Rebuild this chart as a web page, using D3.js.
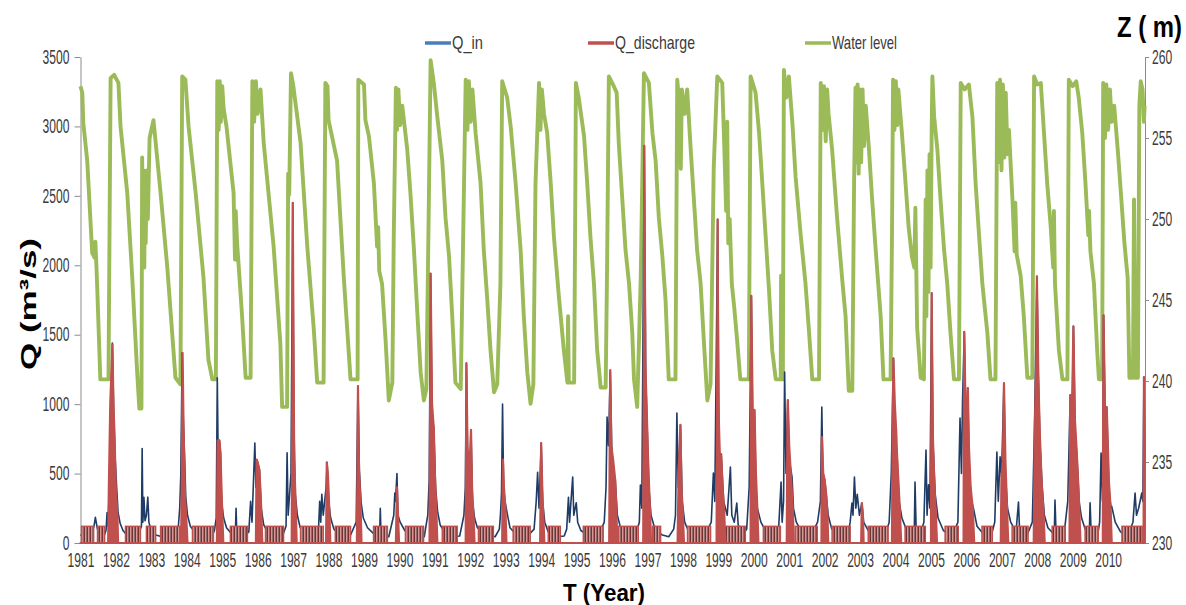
<!DOCTYPE html>
<html>
<head>
<meta charset="utf-8">
<title>Q_in, Q_discharge and water level 1981-2010</title>
<script src="https://d3js.org/d3.v7.min.js"></script>
<style>
  body { margin: 0; background: #fff; }
  text { font-family: "Liberation Sans", Arial, sans-serif; }
</style>
</head>
<body>
<div id="chart"></div>
<script>

// ---- data (time as decimal year) ----
const yearTicks = [1981, 1982, 1983, 1984, 1985, 1986, 1987, 1988, 1989, 1990,
  1991, 1992, 1993, 1994, 1995, 1996, 1997, 1998, 1999, 2000,
  2001, 2002, 2003, 2004, 2005, 2006, 2007, 2008, 2009, 2010];
const qTicks = [0, 500, 1000, 1500, 2000, 2500, 3000, 3500];
const zTicks = [230, 235, 240, 245, 250, 255, 260];

// water level Z (m), [year, Z]
const waterLevel = [
  [1981.00,258.2],[1981.05,257.8],[1981.08,255.9],[1981.19,253.6],[1981.33,247.9],[1981.40,247.6],[1981.42,248.6],[1981.46,246.5],
  [1981.56,240.1],[1981.79,240.1],[1981.80,243.3],[1981.85,258.7],[1981.95,258.9],[1982.07,258.4],[1982.13,255.7],[1982.32,251.6],
  [1982.46,246.4],[1982.60,240.5],[1982.66,238.3],[1982.72,238.3],[1982.74,253.8],[1982.76,249.0],[1982.78,253.0],[1982.80,247.0],
  [1982.82,252.5],[1982.84,248.5],[1982.87,253.0],[1982.90,250.0],[1982.95,255.0],[1983.06,256.1],[1983.26,251.6],[1983.45,247.0],
  [1983.68,240.2],[1983.82,239.8],[1983.87,258.8],[1983.96,258.6],[1984.05,255.7],[1984.25,251.6],[1984.47,246.4],[1984.61,241.3],
  [1984.72,240.1],[1984.82,240.1],[1984.86,258.5],[1984.90,255.5],[1984.93,258.5],[1984.96,256.0],[1985.00,258.2],[1985.04,256.8],
  [1985.12,255.7],[1985.32,251.6],[1985.36,247.5],[1985.38,250.5],[1985.42,248.5],[1985.56,244.0],[1985.66,240.2],[1985.80,240.2],
  [1985.85,258.5],[1985.90,256.0],[1985.95,258.5],[1986.00,256.5],[1986.08,258.0],[1986.17,254.7],[1986.45,248.3],[1986.64,242.3],
  [1986.69,238.4],[1986.83,238.4],[1986.86,252.8],[1986.89,251.5],[1986.94,259.0],[1987.00,258.3],[1987.21,254.7],[1987.40,248.3],
  [1987.58,243.3],[1987.68,239.9],[1987.86,239.9],[1987.91,258.4],[1987.97,258.2],[1988.00,256.1],[1988.24,253.6],[1988.43,246.4],
  [1988.62,240.1],[1988.82,240.1],[1988.84,258.6],[1989.00,258.3],[1989.04,256.1],[1989.14,255.1],[1989.28,252.2],[1989.37,248.3],
  [1989.40,249.5],[1989.43,246.8],[1989.51,246.0],[1989.61,242.5],[1989.70,238.8],[1989.80,239.9],[1989.84,248.9],[1989.90,258.1],
  [1989.93,255.5],[1989.97,258.0],[1990.02,255.8],[1990.08,257.0],[1990.22,254.3],[1990.31,251.6],[1990.41,248.1],[1990.50,244.4],
  [1990.60,240.5],[1990.69,238.8],[1990.76,239.5],[1990.83,251.0],[1990.88,259.8],[1990.97,258.4],[1991.07,256.3],[1991.21,253.6],
  [1991.30,250.1],[1991.40,247.7],[1991.49,244.0],[1991.58,239.9],[1991.73,239.5],[1991.87,258.6],[1991.92,255.5],[1991.96,258.5],
  [1992.01,256.0],[1992.06,258.0],[1992.15,255.3],[1992.29,252.2],[1992.38,248.1],[1992.48,245.0],[1992.57,241.9],[1992.67,239.3],
  [1992.76,239.8],[1992.85,246.0],[1992.90,258.5],[1993.04,257.5],[1993.14,255.7],[1993.28,252.2],[1993.42,248.1],[1993.51,244.0],
  [1993.61,240.5],[1993.70,238.6],[1993.78,239.8],[1993.84,252.2],[1993.94,258.4],[1993.98,255.5],[1994.02,258.0],[1994.08,256.5],
  [1994.17,255.3],[1994.27,252.2],[1994.36,248.9],[1994.50,245.2],[1994.64,241.9],[1994.74,239.9],[1994.76,244.0],[1994.78,239.9],
  [1994.93,239.9],[1994.96,250.0],[1994.98,258.4],[1995.06,257.5],[1995.21,255.1],[1995.30,252.2],[1995.39,248.9],[1995.49,246.0],
  [1995.58,241.9],[1995.68,239.6],[1995.82,239.6],[1995.86,247.0],[1995.91,258.8],[1996.05,258.2],[1996.13,257.8],[1996.19,254.7],
  [1996.29,251.2],[1996.38,248.1],[1996.48,246.0],[1996.57,243.0],[1996.62,240.1],[1996.71,238.4],[1996.81,246.4],[1996.90,259.0],
  [1997.04,258.4],[1997.14,255.3],[1997.23,253.6],[1997.32,250.1],[1997.42,247.7],[1997.51,245.0],[1997.60,240.1],[1997.79,240.1],
  [1997.84,258.6],[1997.90,257.0],[1997.94,253.1],[1997.97,258.0],[1998.05,256.5],[1998.12,258.0],[1998.16,256.5],[1998.22,254.3],
  [1998.31,251.2],[1998.40,248.1],[1998.50,246.0],[1998.59,242.5],[1998.69,238.8],[1998.78,239.8],[1998.87,253.2],[1998.97,258.8],
  [1999.11,258.4],[1999.16,255.0],[1999.22,250.5],[1999.25,256.0],[1999.28,248.5],[1999.32,250.0],[1999.38,246.0],[1999.45,244.5],
  [1999.53,242.5],[1999.62,240.1],[1999.86,240.1],[1999.91,258.8],[2000.05,257.8],[2000.15,255.3],[2000.24,252.2],[2000.33,249.1],
  [2000.43,245.6],[2000.52,241.9],[2000.62,240.1],[2000.76,240.1],[2000.77,246.5],[2000.79,240.1],[2000.82,240.1],[2000.85,259.2],
  [2000.92,257.5],[2000.99,258.8],[2001.09,255.9],[2001.18,252.6],[2001.32,249.1],[2001.46,246.0],[2001.56,243.0],[2001.65,240.1],
  [2001.84,240.1],[2001.89,258.4],[2001.94,255.5],[2001.98,258.2],[2002.03,254.8],[2002.07,258.0],[2002.11,256.5],[2002.21,254.3],
  [2002.35,250.1],[2002.49,246.4],[2002.59,244.0],[2002.68,239.4],[2002.78,239.4],[2002.83,252.2],[2002.87,258.1],[2002.90,253.5],
  [2002.93,258.3],[2002.96,252.8],[2002.99,258.0],[2003.03,253.5],[2003.07,258.0],[2003.11,254.5],[2003.16,257.0],[2003.25,254.3],
  [2003.34,251.2],[2003.44,248.1],[2003.58,244.0],[2003.66,240.1],[2003.86,240.1],[2003.90,249.0],[2003.93,258.6],[2003.97,255.5],
  [2004.01,258.5],[2004.05,255.8],[2004.08,258.0],[2004.18,255.3],[2004.27,252.6],[2004.37,249.5],[2004.46,247.7],[2004.53,247.0],
  [2004.56,250.7],[2004.61,243.3],[2004.71,240.2],[2004.80,240.1],[2004.85,251.2],[2004.87,244.0],[2004.90,253.0],[2004.93,245.5],
  [2004.96,254.0],[2004.99,247.0],[2005.02,255.5],[2005.04,258.8],[2005.09,256.3],[2005.18,254.3],[2005.27,251.2],[2005.37,248.1],
  [2005.46,246.0],[2005.55,243.0],[2005.65,240.1],[2005.79,240.1],[2005.84,258.4],[2005.95,258.0],[2006.07,258.3],[2006.17,256.3],
  [2006.26,252.2],[2006.36,248.9],[2006.45,246.0],[2006.59,243.0],[2006.68,240.1],[2006.82,240.1],[2006.87,258.4],[2006.91,253.5],
  [2006.95,258.6],[2006.99,253.0],[2007.03,258.3],[2007.07,253.8],[2007.11,257.8],[2007.16,254.0],[2007.20,255.5],[2007.30,251.2],
  [2007.36,248.0],[2007.38,251.0],[2007.42,247.8],[2007.53,246.5],[2007.62,244.0],[2007.72,240.2],[2007.86,240.2],[2007.91,258.8],
  [2008.00,258.3],[2008.10,258.4],[2008.19,255.3],[2008.28,252.2],[2008.38,249.5],[2008.45,247.0],[2008.47,250.5],[2008.50,246.0],
  [2008.61,241.9],[2008.71,240.1],[2008.85,240.1],[2008.89,258.6],[2009.00,258.2],[2009.10,258.5],[2009.17,257.5],[2009.27,255.3],
  [2009.36,252.2],[2009.44,249.0],[2009.46,250.5],[2009.50,248.0],[2009.60,246.0],[2009.69,241.9],[2009.74,240.1],[2009.83,240.1],
  [2009.86,258.4],[2009.91,255.0],[2009.95,258.3],[2010.00,255.5],[2010.05,258.0],[2010.10,256.0],[2010.17,257.0],[2010.27,254.3],
  [2010.36,251.6],[2010.46,248.5],[2010.55,246.4],[2010.60,240.2],[2010.70,240.2],[2010.73,251.2],[2010.77,240.2],[2010.84,240.2],
  [2010.88,257.0],[2010.92,258.5],[2010.97,258.0],[2011.01,256.0],[2011.03,257.0]
];

// inflow Q_in (m3/s), [year, Q]
const qIn = [
  [1981.00,60],[1981.10,40],[1981.30,50],[1981.38,120],[1981.42,185],[1981.47,110],[1981.52,60],[1981.65,40],[1981.72,90],
  [1981.75,220],[1981.78,120],[1981.82,500],[1981.86,1000],[1981.90,1440],[1981.94,900],[1981.98,600],[1982.02,400],[1982.06,220],
  [1982.12,140],[1982.20,90],[1982.30,60],[1982.45,45],[1982.60,40],[1982.72,120],[1982.74,680],[1982.76,150],[1982.79,330],
  [1982.82,160],[1982.86,200],[1982.90,330],[1982.93,150],[1982.98,100],[1983.10,60],[1983.30,45],[1983.60,40],[1983.75,80],
  [1983.80,250],[1983.83,490],[1983.87,1370],[1983.90,900],[1983.94,600],[1983.97,330],[1984.02,200],[1984.10,120],[1984.25,70],
  [1984.50,45],[1984.70,40],[1984.78,90],[1984.83,180],[1984.86,1190],[1984.89,500],[1984.92,740],[1984.95,650],[1984.98,300],
  [1985.04,180],[1985.12,110],[1985.25,70],[1985.37,60],[1985.39,250],[1985.41,70],[1985.60,45],[1985.75,80],[1985.80,300],
  [1985.84,150],[1985.92,720],[1985.95,400],[1985.98,600],[1986.05,525],[1986.10,250],[1986.17,130],[1986.30,70],[1986.50,45],
  [1986.70,50],[1986.80,120],[1986.83,650],[1986.86,200],[1986.94,500],[1986.99,2450],[1987.02,900],[1987.06,350],[1987.12,200],
  [1987.20,110],[1987.40,60],[1987.60,45],[1987.72,120],[1987.75,300],[1987.78,150],[1987.81,350],[1987.85,200],[1987.93,400],
  [1987.96,580],[1988.00,300],[1988.06,180],[1988.15,100],[1988.35,55],[1988.60,45],[1988.78,150],[1988.83,1130],[1988.87,520],
  [1988.92,290],[1988.98,180],[1989.10,110],[1989.30,60],[1989.44,50],[1989.46,250],[1989.48,60],[1989.70,45],[1989.84,200],
  [1989.87,360],[1989.89,300],[1989.93,500],[1989.96,200],[1990.02,150],[1990.15,90],[1990.40,50],[1990.70,45],[1990.80,200],
  [1990.84,455],[1990.88,1940],[1990.92,900],[1990.97,830],[1991.02,400],[1991.08,220],[1991.15,130],[1991.30,70],[1991.50,45],
  [1991.70,50],[1991.82,200],[1991.86,400],[1991.89,1290],[1991.93,500],[1992.00,300],[1992.02,810],[1992.06,300],[1992.12,180],
  [1992.20,110],[1992.40,60],[1992.70,45],[1992.82,100],[1992.85,200],[1992.88,350],[1992.91,1000],[1992.94,400],[1992.98,300],
  [1993.05,200],[1993.12,110],[1993.30,60],[1993.60,45],[1993.80,100],[1993.86,300],[1993.90,510],[1993.94,250],[1994.00,720],
  [1994.04,300],[1994.10,150],[1994.20,80],[1994.45,45],[1994.65,50],[1994.72,100],[1994.77,330],[1994.80,150],[1994.89,475],
  [1994.92,200],[1994.99,290],[1995.03,150],[1995.12,90],[1995.35,50],[1995.60,40],[1995.78,150],[1995.83,400],[1995.86,907],
  [1995.90,700],[1995.95,1240],[1995.99,700],[1996.04,450],[1996.09,453],[1996.15,200],[1996.25,100],[1996.45,55],[1996.65,45],
  [1996.77,150],[1996.80,417],[1996.84,250],[1996.91,2860],[1996.95,1200],[1996.99,850],[1997.04,400],[1997.10,200],[1997.20,110],
  [1997.40,60],[1997.60,45],[1997.74,100],[1997.79,200],[1997.83,936],[1997.87,400],[1997.93,850],[1997.98,300],[1998.05,150],
  [1998.15,90],[1998.40,50],[1998.60,45],[1998.80,150],[1998.86,504],[1998.90,300],[1998.98,2330],[1999.02,650],[1999.08,640],
  [1999.15,300],[1999.25,200],[1999.34,547],[1999.38,200],[1999.45,150],[1999.52,288],[1999.56,130],[1999.70,60],[1999.80,100],
  [1999.87,403],[1999.93,1780],[1999.97,800],[2000.02,958],[2000.06,400],[2000.10,250],[2000.20,150],[2000.35,80],[2000.55,60],
  [2000.70,100],[2000.77,439],[2000.80,150],[2000.84,300],[2000.87,1231],[2000.91,500],[2000.96,1030],[2001.00,600],[2001.08,475],
  [2001.12,250],[2001.20,150],[2001.35,80],[2001.60,45],[2001.80,150],[2001.88,300],[2001.92,979],[2001.95,500],[2002.00,455],
  [2002.04,360],[2002.10,200],[2002.20,100],[2002.45,55],[2002.65,50],[2002.72,150],[2002.77,288],[2002.80,200],[2002.84,475],
  [2002.88,250],[2002.92,350],[2002.98,200],[2003.05,288],[2003.10,150],[2003.25,80],[2003.50,50],[2003.70,45],[2003.82,150],
  [2003.88,500],[2003.94,1330],[2003.98,800],[2004.04,650],[2004.10,300],[2004.18,180],[2004.30,100],[2004.45,60],[2004.53,100],
  [2004.55,439],[2004.58,120],[2004.70,70],[2004.80,150],[2004.86,670],[2004.89,200],[2004.93,420],[2004.97,250],[2005.02,1800],
  [2005.06,700],[2005.12,350],[2005.20,180],[2005.35,90],[2005.60,50],[2005.76,150],[2005.82,900],[2005.86,500],[2005.89,1008],
  [2005.94,1520],[2005.99,800],[2006.04,1116],[2006.08,500],[2006.14,300],[2006.20,250],[2006.30,120],[2006.50,60],[2006.70,50],
  [2006.80,150],[2006.86,655],[2006.90,300],[2006.95,620],[2006.99,475],[2007.06,1150],[2007.10,500],[2007.16,250],[2007.25,150],
  [2007.40,80],[2007.47,295],[2007.50,90],[2007.70,50],[2007.86,150],[2007.92,815],[2007.99,1920],[2008.03,1195],[2008.08,700],
  [2008.14,400],[2008.20,200],[2008.30,110],[2008.48,60],[2008.50,310],[2008.53,70],[2008.75,50],[2008.86,300],[2008.93,1066],
  [2008.97,600],[2009.02,1560],[2009.07,800],[2009.12,620],[2009.18,300],[2009.25,180],[2009.35,100],[2009.47,80],[2009.49,290],
  [2009.52,80],[2009.70,50],[2009.76,150],[2009.80,648],[2009.84,300],[2009.87,1640],[2009.92,800],[2009.96,979],[2010.02,400],
  [2010.08,250],[2010.10,264],[2010.20,150],[2010.35,80],[2010.55,50],[2010.70,150],[2010.76,360],[2010.80,200],[2010.86,250],
  [2010.95,360],[2010.98,300],[2011.01,1195],[2011.03,600]
];

// flood releases Q_discharge (m3/s), [year, Q]
const qDischarge = [
  [1981.00,0],[1981.78,0],[1981.80,400],[1981.84,1000],[1981.90,1430],[1981.93,1000],[1981.96,780],[1982.00,360],[1982.04,216],[1982.06,0],
  [1983.84,0],[1983.86,500],[1983.88,1370],[1983.91,800],[1983.95,330],[1983.99,150],[1984.02,0],
  [1984.85,0],[1984.87,740],[1984.92,740],[1984.95,650],[1984.99,300],[1985.03,0],
  [1985.95,0],[1985.97,600],[1986.00,580],[1986.05,525],[1986.10,250],[1986.13,0],
  [1986.96,0],[1986.98,1200],[1986.99,2450],[1987.01,1500],[1987.03,600],[1987.07,300],[1987.10,0],
  [1987.93,0],[1987.95,580],[1987.98,500],[1988.02,250],[1988.05,0],
  [1988.80,0],[1988.82,700],[1988.83,1130],[1988.86,525],[1988.90,290],[1988.93,0],
  [1989.90,0],[1989.93,400],[1989.96,200],[1989.99,0],
  [1990.85,0],[1990.87,1200],[1990.88,1940],[1990.92,1000],[1990.97,827],[1991.00,500],[1991.04,250],[1991.07,0],
  [1991.87,0],[1991.89,1296],[1991.92,700],[1991.97,500],[1992.02,814],[1992.05,400],[1992.09,200],[1992.12,0],
  [1992.90,0],[1992.92,600],[1992.95,400],[1992.99,250],[1993.02,0],
  [1993.97,0],[1994.00,720],[1994.03,400],[1994.06,200],[1994.09,0],
  [1995.92,0],[1995.94,1000],[1995.95,1246],[1995.98,700],[1996.03,600],[1996.09,453],[1996.12,250],[1996.15,0],
  [1996.88,0],[1996.90,1500],[1996.91,2860],[1996.94,1300],[1996.99,850],[1997.03,500],[1997.07,250],[1997.10,0],
  [1997.85,0],[1997.88,500],[1997.93,850],[1997.96,400],[1998.00,200],[1998.03,0],
  [1998.95,0],[1998.97,1500],[1998.98,2330],[1999.00,1000],[1999.04,648],[1999.08,640],[1999.12,400],[1999.16,250],[1999.20,0],
  [1999.91,0],[1999.92,1200],[1999.93,1780],[1999.97,900],[2000.02,958],[2000.06,500],[2000.10,250],[2000.13,0],
  [2000.93,0],[2000.95,900],[2000.96,1030],[2001.00,700],[2001.05,475],[2001.10,250],[2001.13,0],
  [2001.91,0],[2001.92,763],[2001.96,500],[2002.00,455],[2002.04,360],[2002.08,200],[2002.10,0],
  [2003.03,0],[2003.05,288],[2003.08,200],[2003.10,0],
  [2003.90,0],[2003.92,900],[2003.94,1330],[2003.98,1000],[2004.02,800],[2004.04,650],[2004.08,450],[2004.12,250],[2004.16,0],
  [2005.00,0],[2005.01,1000],[2005.02,1800],[2005.05,800],[2005.10,400],[2005.14,200],[2005.17,0],
  [2005.92,0],[2005.93,1000],[2005.94,1520],[2005.98,900],[2006.02,950],[2006.04,1116],[2006.07,700],[2006.12,400],[2006.18,250],[2006.22,0],
  [2006.97,0],[2006.99,475],[2007.03,600],[2007.06,1152],[2007.10,600],[2007.14,300],[2007.18,0],
  [2007.90,0],[2007.93,815],[2007.97,1300],[2007.99,1920],[2008.03,1195],[2008.07,800],[2008.12,450],[2008.17,250],[2008.21,0],
  [2008.91,0],[2008.93,1066],[2008.97,800],[2009.02,1560],[2009.06,900],[2009.12,620],[2009.17,350],[2009.22,0],
  [2009.85,0],[2009.86,1000],[2009.87,1640],[2009.92,800],[2009.96,979],[2010.02,450],[2010.07,250],[2010.10,0],
  [2011.00,0],[2011.01,1195],[2011.03,600]
];

// dry-season periods where the discharge switches on/off at ~120 m3/s
const pulseLevel = 120;
const dryPulses = [
  [1981.03,1981.37],[1981.48,1981.68],[1982.27,1982.69],[1982.86,1983.12],[1983.26,1983.82],[1984.16,1984.75],
  [1985.23,1985.71],[1986.22,1986.73],[1987.21,1987.85],[1988.19,1988.62],[1989.27,1989.66],[1990.17,1990.68],
  [1991.21,1991.63],[1992.23,1992.65],[1993.21,1993.69],[1994.20,1994.54],[1995.19,1995.75],[1996.18,1996.74],
  [1997.14,1997.37],[1998.13,1998.78],[1999.19,1999.76],[2000.27,2000.75],[2001.17,2001.79],[2002.21,2002.72],
  [2003.23,2003.79],[2004.27,2004.84],[2005.40,2005.77],[2006.44,2006.73],[2007.29,2007.74],[2008.42,2008.79],
  [2009.35,2009.72],[2010.39,2010.96]
];

const seriesNames = ['Q_in', 'Q_discharge', 'Water level'];

// ---- layout ----
const width = 1186, height = 605;
const margin = { left: 80.5, right: 41, top: 57, bottom: 62 };
const innerWidth = width - margin.left - margin.right;
const innerHeight = height - margin.top - margin.bottom;
const squeeze = 0.62;   // the picture's text is horizontally condensed
const colors = { qin: '#1f3c66', qinKey: '#4a7ebb', qout: '#c0504d', level: '#9bbb59', axis: '#8c8c8c', label: '#3a3a3a' };

const svg = d3.select('#chart').append('svg')
  .attr('width', width)
  .attr('height', height);

const g = svg.append('g')
  .attr('transform', `translate(${margin.left},${margin.top})`);

const xScale = d3.scaleLinear().domain([1981, 2011.04]).range([0, innerWidth]);
const qScale = d3.scaleLinear().domain([0, 3500]).range([innerHeight, 0]);
const zScale = d3.scaleLinear().domain([230, 260]).range([innerHeight, 0]);

// stripe texture for the on/off releases
const pat = svg.append('defs').append('pattern')
  .attr('id', 'pulse')
  .attr('patternUnits', 'userSpaceOnUse')
  .attr('width', 3).attr('height', 20);
pat.append('rect').attr('width', 3).attr('height', 20).attr('fill', '#f4dede');
pat.append('rect').attr('x', 0).attr('width', 1.1).attr('height', 20).attr('fill', '#2a0808');
pat.append('rect').attr('x', 1.1).attr('width', 1).attr('height', 20).attr('fill', colors.qout);

// ---- axes ----
function styleAxis(sel) {
  sel.select('.domain').attr('stroke', colors.axis);
  sel.selectAll('.tick line').attr('stroke', colors.axis);
  sel.selectAll('.tick text')
    .attr('fill', colors.label)
    .style('font-size', '19.5px');
}

const xAxisG = g.append('g')
  .attr('transform', `translate(0,${innerHeight})`)
  .call(d3.axisBottom(xScale).tickValues(yearTicks).tickFormat(d3.format('d')).tickSize(0).tickSizeOuter(0))
  .call(styleAxis);
xAxisG.selectAll('.tick text')
  .attr('y', 24).attr('dy', 0)
  .attr('transform', `scale(${squeeze},1)`);

const qAxisG = g.append('g')
  .call(d3.axisLeft(qScale).tickValues(qTicks).tickFormat(d3.format('d')).tickSize(6).tickSizeOuter(0))
  .call(styleAxis);
qAxisG.selectAll('.tick text')
  .attr('x', -11 / squeeze)
  .attr('transform', `scale(${squeeze},1)`);

const zAxisG = g.append('g')
  .attr('transform', `translate(${innerWidth},0)`)
  .call(d3.axisRight(zScale).tickValues(zTicks).tickSize(4).tickSizeOuter(0))
  .call(styleAxis);
zAxisG.selectAll('.tick text')
  .attr('x', 7 / squeeze)
  .attr('transform', `scale(${squeeze},1)`);

// ---- series ----
const levelLine = d3.line()
  .x(d => xScale(d[0]))
  .y(d => zScale(d[1]));

g.append('path')
  .datum(waterLevel)
  .attr('d', levelLine)
  .attr('fill', 'none')
  .attr('stroke', colors.level)
  .attr('stroke-width', 3.9)
  .attr('stroke-linejoin', 'round');

const qLine = d3.line()
  .x(d => xScale(d[0]))
  .y(d => qScale(d[1]));

// inflow sits under the releases, showing where it runs above them
g.append('path')
  .datum(qIn)
  .attr('d', qLine)
  .attr('fill', 'none')
  .attr('stroke', colors.qin)
  .attr('stroke-width', 1.6)
  .attr('stroke-linejoin', 'round');

g.selectAll('.pulse')
  .data(dryPulses)
  .enter().append('rect')
    .attr('class', 'pulse')
    .attr('x', d => xScale(d[0]))
    .attr('width', d => xScale(d[1]) - xScale(d[0]))
    .attr('y', qScale(pulseLevel))
    .attr('height', qScale(0) - qScale(pulseLevel))
    .attr('fill', 'url(#pulse)')
    .attr('stroke', colors.qout)
    .attr('stroke-width', 1.5);

const dischargeArea = d3.area()
  .x(d => xScale(d[0]))
  .y0(qScale(0))
  .y1(d => qScale(d[1]));

g.append('path')
  .datum(qDischarge)
  .attr('d', dischargeArea)
  .attr('fill', colors.qout)
  .attr('stroke', colors.qout)
  .attr('stroke-width', 2.2)
  .attr('stroke-linejoin', 'round');

// ---- titles ----
svg.append('text')
  .attr('transform', 'translate(36,304) rotate(-90)')
  .attr('text-anchor', 'middle')
  .attr('textLength', 132)
  .attr('lengthAdjust', 'spacingAndGlyphs')
  .style('font-size', '22px')
  .style('font-weight', 'bold')
  .text('Q (m³/s)');

svg.append('text')
  .attr('x', 1117).attr('y', 37)
  .attr('textLength', 65)
  .attr('lengthAdjust', 'spacingAndGlyphs')
  .style('font-size', '30px')
  .style('font-weight', 'bold')
  .text('Z ( m)');

svg.append('text')
  .attr('x', 563).attr('y', 601)
  .attr('textLength', 82)
  .attr('lengthAdjust', 'spacingAndGlyphs')
  .style('font-size', '24px')
  .style('font-weight', 'bold')
  .text('T (Year)');

// ---- legend ----
const legendItems = [
  { name: seriesNames[0], color: colors.qinKey, x: 425, len: 31 },
  { name: seriesNames[1], color: colors.qout, x: 588, len: 80 },
  { name: seriesNames[2], color: colors.level, x: 805, len: 65 }
];
const legend = svg.selectAll('.legend')
  .data(legendItems)
  .enter().append('g')
    .attr('class', 'legend')
    .attr('transform', d => `translate(${d.x},43)`);
legend.append('line')
  .attr('x1', 0).attr('x2', 26)
  .attr('stroke', d => d.color)
  .attr('stroke-width', 3.5);
legend.append('text')
  .attr('x', 27).attr('y', 5.5)
  .attr('textLength', d => d.len)
  .attr('lengthAdjust', 'spacingAndGlyphs')
  .attr('fill', colors.label)
  .style('font-size', '19px')
  .text(d => d.name);

</script>
</body>
</html>
